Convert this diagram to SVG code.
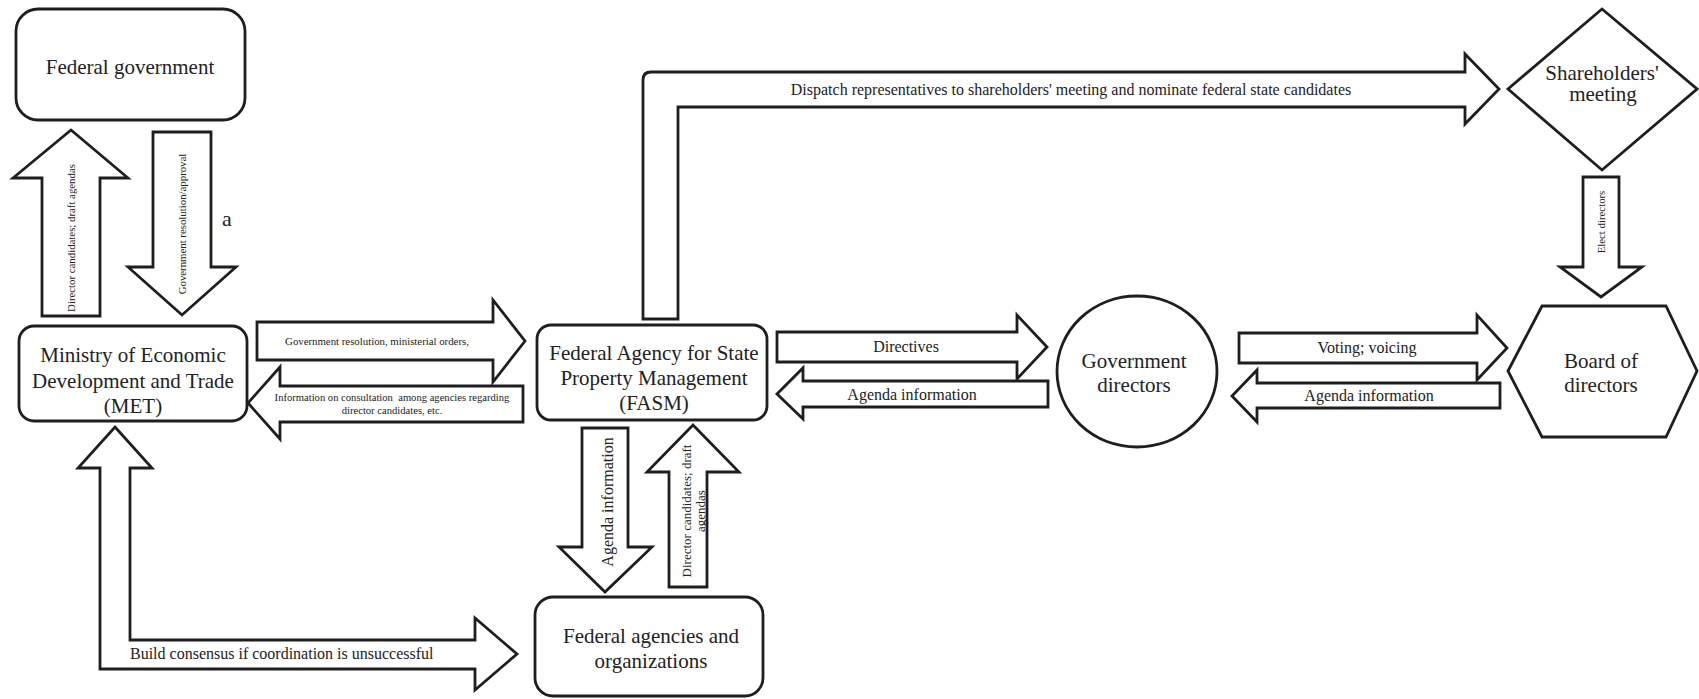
<svg xmlns="http://www.w3.org/2000/svg" width="1699" height="699" viewBox="0 0 1699 699" font-family="'Liberation Serif', 'Times New Roman', Times, 'DejaVu Serif', serif">
<style>
.shape{fill:#fff;stroke:#1e1e1e;stroke-width:2.8;stroke-linejoin:miter}
.arrow{fill:#fff;stroke:#1e1e1e;stroke-width:2.8;stroke-linejoin:miter}
text{font-family:'Liberation Serif','Times New Roman',Times,'DejaVu Serif',serif;fill:#222}
.node{font-size:21px;text-anchor:middle}
.lbl16{font-size:16px;text-anchor:middle}
.lbl11{font-size:10.8px;text-anchor:middle}
.lbl10{font-size:10.6px;text-anchor:middle}
.lbl13{font-size:13px;text-anchor:middle}
</style>
<rect width="1699" height="699" fill="#fff"/>
<g id="connectors">
  <path class="arrow" d="M42,316 L42,178 L13,178 L71,130 L128,178 L100,178 L100,316 Z"/>
  <text class="lbl11" transform="translate(74.5,238) rotate(-90)">Director candidates; draft agendas</text>
  <path class="arrow" d="M153,132 L211,132 L211,267 L236,267 L182,315 L128,267 L153,267 Z"/>
  <text class="lbl11" transform="translate(185.5,224) rotate(-90)">Government resolution/approval</text>
  <path class="arrow" d="M257,322 L493,322 L493,300 L525,341 L493,382 L493,360 L257,360 Z"/>
  <text class="lbl11" x="377" y="345">Government resolution, ministerial orders,</text>
  <path class="arrow" d="M523,386 L280,386 L280,367 L248,403 L280,439 L280,422 L523,422 Z"/>
  <text class="lbl10" x="392" y="400.5" xml:space="preserve">Information on consultation  among agencies regarding</text>
  <text class="lbl10" x="392" y="414">director candidates, etc.</text>
  <path class="arrow" d="M115,427 L152,468 L130,468 L130,640 L475,640 L475,618 L517,654 L475,690 L475,669 L100,669 L100,468 L78,468 Z"/>
  <text x="130" y="659" style="font-size:16px">Build consensus if coordination is unsuccessful</text>
  <path class="arrow" d="M582,428 L628,428 L628,547 L652,547 L605,592 L559,547 L582,547 Z"/>
  <text class="lbl16" transform="translate(613,502) rotate(-90)">Agenda information</text>
  <path class="arrow" d="M669,587 L669,472 L647,472 L693,425 L739,472 L707,472 L707,587 Z"/>
  <text class="lbl13" transform="translate(690.5,511) rotate(-90)">Director candidates; draft</text>
  <text class="lbl13" transform="translate(704.5,511) rotate(-90)">agendas</text>
  <path class="arrow" d="M643,319 L643,80 Q643,72 651,72 L1465,72 L1465,54 L1499,89 L1465,124 L1465,107 L678,107 L678,319 Z"/>
  <text class="lbl16" x="1071" y="95">Dispatch representatives to shareholders' meeting and nominate federal state candidates</text>
  <path class="arrow" d="M777,332 L1017,332 L1017,315 L1047,347 L1017,379 L1017,362 L777,362 Z"/>
  <text class="lbl16" x="906" y="352">Directives</text>
  <path class="arrow" d="M1048,381 L803,381 L803,368 L777,394 L803,419 L803,407 L1048,407 Z"/>
  <text class="lbl16" x="912" y="400">Agenda information</text>
  <path class="arrow" d="M1239,333 L1477,333 L1477,315 L1507,348 L1477,380 L1477,363 L1239,363 Z"/>
  <text class="lbl16" x="1367" y="353">Voting; voicing</text>
  <path class="arrow" d="M1500,383 L1257,383 L1257,370 L1232,396 L1257,422 L1257,408 L1500,408 Z"/>
  <text class="lbl16" x="1369" y="401">Agenda information</text>
  <path class="arrow" d="M1583,177 L1619,177 L1619,267 L1642,267 L1601,297 L1560,267 L1583,267 Z"/>
  <text class="lbl11" transform="translate(1605,222) rotate(-90)">Elect directors</text>
</g>
<g id="federal-government">
  <rect class="shape" x="16" y="9" width="229" height="111" rx="22"/>
  <text class="node" x="130" y="74">Federal government</text>
</g>
<text x="222" y="226" style="font-size:22px">a</text>
<g id="met">
  <rect class="shape" x="19" y="326" width="228" height="95" rx="15"/>
  <text class="node" x="133" y="362">Ministry of Economic</text>
  <text class="node" x="133" y="388">Development and Trade</text>
  <text class="node" x="133" y="413">(MET)</text>
</g>
<g id="fasm">
  <rect class="shape" x="537" y="325" width="230" height="95" rx="14"/>
  <text class="node" x="654" y="360">Federal Agency for State</text>
  <text class="node" x="654" y="385">Property Management</text>
  <text class="node" x="654" y="410">(FASM)</text>
</g>
<g id="federal-agencies">
  <rect class="shape" x="535" y="597" width="228" height="99" rx="18"/>
  <text class="node" x="651" y="643">Federal agencies and</text>
  <text class="node" x="651" y="668">organizations</text>
</g>
<g id="government-directors">
  <ellipse class="shape" cx="1137" cy="371.5" rx="80" ry="75.5"/>
  <text class="node" x="1134" y="368">Government</text>
  <text class="node" x="1134" y="392">directors</text>
</g>
<g id="shareholders-meeting">
  <polygon class="shape" points="1602,9 1697,89 1602,170 1508,89"/>
  <text class="node" x="1602" y="80">Shareholders'</text>
  <text class="node" x="1603" y="101">meeting</text>
</g>
<g id="board-of-directors">
  <polygon class="shape" points="1508,371 1542,306 1666,306 1697,371 1666,437 1542,437"/>
  <text class="node" x="1601" y="368">Board of</text>
  <text class="node" x="1601" y="392">directors</text>
</g>
</svg>
